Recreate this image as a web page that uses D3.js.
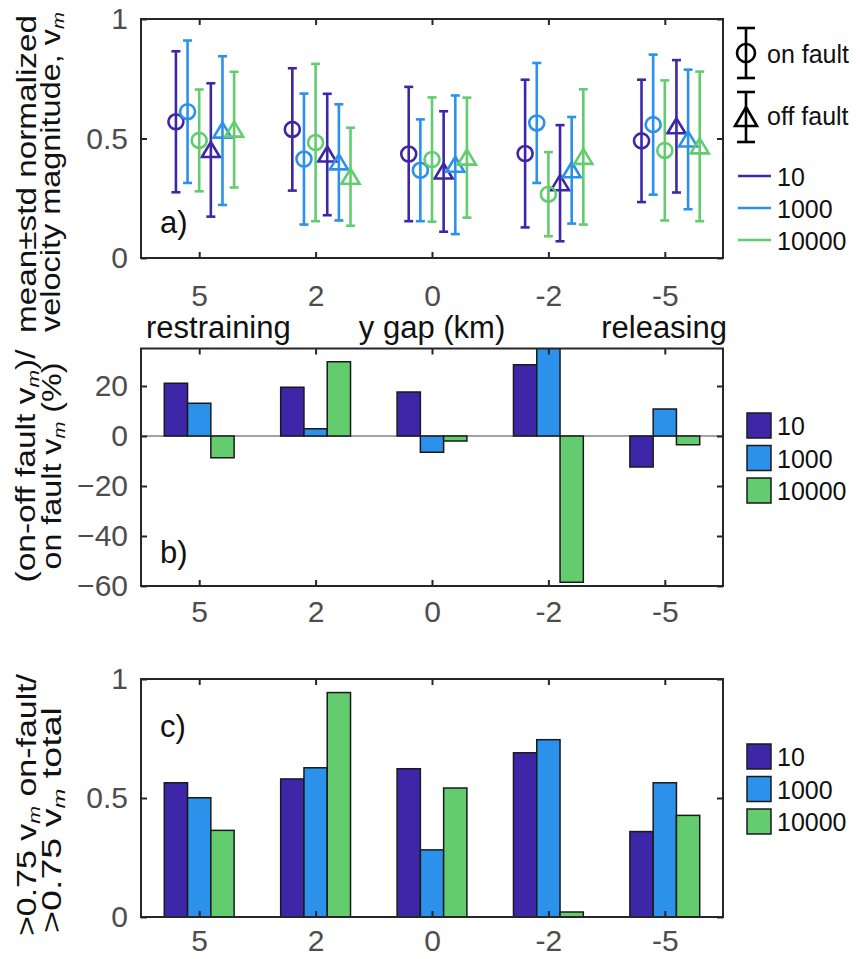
<!DOCTYPE html>
<html>
<head>
<meta charset="utf-8">
<script src="https://cdn.jsdelivr.net/npm/d3@7"></script>
<style>
  body { margin: 0; background: #fff; }
  svg { font-family: "Liberation Sans", Arial, sans-serif; }
</style>
</head>
<body>
<svg id="canvas" width="860" height="959"></svg>
<script>
// y gap categories and model series
let gaps = ['5', '2', '0', '-2', '-5'];
let series = ['10', '1000', '10000'];
let colors = ['#3E26A8', '#2B91EA', '#63CC6E'];

// panel a: mean and std of normalized velocity magnitude (rows = series)
let onMean = [
    [0.570, 0.538, 0.435, 0.437, 0.490],
    [0.612, 0.414, 0.367, 0.565, 0.558],
    [0.492, 0.483, 0.412, 0.267, 0.450]
];
let onStd = [
    [0.295, 0.256, 0.281, 0.309, 0.256],
    [0.298, 0.274, 0.213, 0.251, 0.293],
    [0.213, 0.329, 0.260, 0.176, 0.293]
];
let offMean = [
    [0.452, 0.433, 0.362, 0.313, 0.551],
    [0.533, 0.400, 0.390, 0.367, 0.496],
    [0.537, 0.340, 0.420, 0.423, 0.467]
];
let offStd = [
    [0.279, 0.254, 0.252, 0.243, 0.277],
    [0.311, 0.243, 0.290, 0.223, 0.292],
    [0.242, 0.205, 0.251, 0.283, 0.313]
];

// panel b: (on-off)/on in percent
let diffPct = [
    [21.1, 19.5, 17.6, 28.5, -12.4],
    [13.1, 2.9, -6.5, 35.5, 10.8],
    [-8.7, 29.7, -2.0, -58.5, -3.5]
];

// panel c: fraction of >0.75 vm that is on fault
let fracOn = [
    [0.564, 0.580, 0.623, 0.690, 0.359],
    [0.501, 0.627, 0.282, 0.745, 0.564],
    [0.364, 0.943, 0.542, 0.021, 0.427]
];

let ticksA = [0, 0.5, 1];
let ticksB = [-60, -40, -20, 0, 20];
let ticksC = [0, 0.5, 1];

let canvas = d3.select('#canvas');
let axisColor = '#262626';
let tickColor = '#4d4d4d';
let fs = 30;

let left = 141, right = 723;
let x = d3.scaleLinear().domain([0.5, 5.5]).range([left, right]);

// panel boxes
let panels = {
    a: { top: 19, bottom: 258 },
    b: { top: 348.5, bottom: 586 },
    c: { top: 679, bottom: 917 }
};

let yA = d3.scaleLinear().domain([0, 1]).range([panels.a.bottom, panels.a.top]);
let yB = d3.scaleLinear().domain([-60, 35]).range([panels.b.bottom, panels.b.top]);
let yC = d3.scaleLinear().domain([0, 1]).range([panels.c.bottom, panels.c.top]);

let drawAxes = (p, y, yticks, labelPad) => {
    let g = canvas.append('g');
    let xAx = d3.axisBottom(x).tickValues([1, 2, 3, 4, 5])
        .tickFormat(i => gaps[i - 1]).tickSize(-6).tickPadding(labelPad);
    g.append('g').attr('transform', `translate(0,${p.bottom})`).call(xAx);
    g.append('g').attr('transform', `translate(0,${p.top})`)
        .call(d3.axisTop(x).tickValues([1, 2, 3, 4, 5]).tickFormat('').tickSize(-6));
    g.append('g').attr('transform', `translate(${left},0)`)
        .call(d3.axisLeft(y).tickValues(yticks).tickFormat(d3.format('')).tickSize(-6).tickPadding(13));
    g.append('g').attr('transform', `translate(${right},0)`)
        .call(d3.axisRight(y).tickValues(yticks).tickFormat('').tickSize(-6));
    g.selectAll('.domain').remove();
    g.selectAll('.tick line').attr('stroke', axisColor).attr('stroke-width', 2);
    g.selectAll('.tick text').attr('fill', tickColor).style('font-size', fs + 'px');
    canvas.append('rect')
        .attr('x', left).attr('y', p.top)
        .attr('width', right - left).attr('height', p.bottom - p.top)
        .attr('fill', 'none').attr('stroke', axisColor).attr('stroke-width', 2);
};

// clip bars to their box
let addClip = (id, p) => {
    canvas.append('clipPath').attr('id', id).append('rect')
        .attr('x', left).attr('y', p.top)
        .attr('width', right - left).attr('height', p.bottom - p.top);
};

// rotated y label line; parts with sub=true become the italic subscript m
let yLabel = (xPos, yPos, len, parts) => {
    let t = canvas.append('text')
        .attr('transform', `translate(${xPos},${yPos}) rotate(-90)`)
        .attr('text-anchor', 'middle')
        .attr('fill', '#111')
        .attr('textLength', len)
        .attr('lengthAdjust', 'spacingAndGlyphs')
        .style('font-size', '27px');
    parts.forEach(pt => {
        let s = t.append('tspan').text(pt.t);
        if (pt.sub) {
            s.style('font-size', '17px').style('font-style', 'italic').attr('dy', 4);
        } else if (pt.after) {
            s.attr('dy', -4);
        }
    });
};

let plainText = (xPos, yPos, str, size, anchor) => {
    canvas.append('text').attr('x', xPos).attr('y', yPos)
        .attr('text-anchor', anchor || 'start')
        .style('font-size', size + 'px').attr('fill', '#111').text(str);
};

// ---------- panel a ----------
drawAxes(panels.a, yA, ticksA, 27);

let pointsA = [];
series.forEach((s, si) => {
    gaps.forEach((gp, gi) => {
        pointsA.push({ si, pos: gi + 1 + (si - 2) * 0.1, m: onMean[si][gi], sd: onStd[si][gi], kind: 'on' });
        pointsA.push({ si, pos: gi + 1 + (si + 1) * 0.1, m: offMean[si][gi], sd: offStd[si][gi], kind: 'off' });
    });
});

let gA = canvas.append('g');
let errs = gA.selectAll('g.err').data(pointsA).enter().append('g')
    .attr('stroke', d => colors[d.si]).attr('stroke-width', 2.6).attr('fill', 'none');
errs.append('line')
    .attr('x1', d => x(d.pos)).attr('x2', d => x(d.pos))
    .attr('y1', d => yA(d.m - d.sd)).attr('y2', d => yA(d.m + d.sd));
errs.append('line')
    .attr('x1', d => x(d.pos) - 4.5).attr('x2', d => x(d.pos) + 4.5)
    .attr('y1', d => yA(d.m - d.sd)).attr('y2', d => yA(d.m - d.sd));
errs.append('line')
    .attr('x1', d => x(d.pos) - 4.5).attr('x2', d => x(d.pos) + 4.5)
    .attr('y1', d => yA(d.m + d.sd)).attr('y2', d => yA(d.m + d.sd));
errs.filter(d => d.kind === 'on').append('circle')
    .attr('cx', d => x(d.pos)).attr('cy', d => yA(d.m)).attr('r', 7.5);
errs.filter(d => d.kind === 'off').append('path')
    .attr('d', d => {
        let cx = x(d.pos), cy = yA(d.m);
        return `M${cx},${cy - 8}L${cx + 9},${cy + 7}L${cx - 9},${cy + 7}Z`;
    });

plainText(160, 233, 'a)', 31);

// x label row under panel a
plainText(146, 338, 'restraining', 31);
plainText(x(3), 338, 'y gap (km)', 31, 'middle');
plainText(727, 338, 'releasing', 31, 'end');

yLabel(36, 174, 318, [{ t: 'mean\u00b1std normalized' }]);
yLabel(60, 172, 320, [{ t: 'velocity magnitude, v' }, { t: 'm', sub: true }]);

// legend a
let legA = canvas.append('g').attr('stroke', '#000').attr('stroke-width', 2.6).attr('fill', 'none');
let lx = 746;
[[28, 78], [92, 142]].forEach(([t, b], k) => {
    legA.append('line').attr('x1', lx).attr('x2', lx).attr('y1', t).attr('y2', b);
    legA.append('line').attr('x1', lx - 9).attr('x2', lx + 9).attr('y1', t).attr('y2', t);
    legA.append('line').attr('x1', lx - 9).attr('x2', lx + 9).attr('y1', b).attr('y2', b);
    let cy = (t + b) / 2;
    if (k === 0) {
        legA.append('circle').attr('cx', lx).attr('cy', cy).attr('r', 9);
    } else {
        legA.append('path').attr('d', `M${lx},${cy - 10}L${lx + 11},${cy + 9}L${lx - 11},${cy + 9}Z`);
    }
});
plainText(767, 63, 'on fault', 25);
plainText(767, 125, 'off fault', 25);
series.forEach((s, i) => {
    let ly = 176 + i * 32;
    canvas.append('line').attr('x1', 738).attr('x2', 771).attr('y1', ly).attr('y2', ly)
        .attr('stroke', colors[i]).attr('stroke-width', 2.6);
    plainText(777, ly + 10, s, 25);
});

// ---------- grouped bars (panels b and c) ----------
let drawBars = (vals, y, clipId) => {
    let rows = [];
    vals.forEach((arr, si) => arr.forEach((v, gi) => rows.push({ si, gi, v })));
    canvas.append('g').attr('clip-path', `url(#${clipId})`)
        .selectAll('rect').data(rows).enter().append('rect')
        .attr('x', d => x(d.gi + 1 + (d.si - 1) * 0.2 - 0.1))
        .attr('width', d => x(1.2) - x(1))
        .attr('y', d => y(Math.max(0, d.v)))
        .attr('height', d => Math.abs(y(d.v) - y(0)))
        .attr('fill', d => colors[d.si])
        .attr('stroke', '#1a1a1a').attr('stroke-width', 1.5);
};

let barLegend = (top) => {
    series.forEach((s, i) => {
        let by = top + i * 32.5;
        canvas.append('rect').attr('x', 747).attr('y', by).attr('width', 24).attr('height', 25)
            .attr('fill', colors[i]).attr('stroke', '#1a1a1a').attr('stroke-width', 1.5);
        plainText(777, by + 22, s, 25);
    });
};

// panel b
addClip('clipB', panels.b);
canvas.append('line').attr('x1', left).attr('x2', right).attr('y1', yB(0)).attr('y2', yB(0))
    .attr('stroke', '#444').attr('stroke-width', 1);
drawBars(diffPct, yB, 'clipB');
drawAxes(panels.b, yB, ticksB, 15);
plainText(160, 563, 'b)', 31);
yLabel(35, 466, 233, [{ t: '(on-off fault v' }, { t: 'm', sub: true }, { t: ')/', after: true }]);
yLabel(61, 466, 207, [{ t: 'on fault v' }, { t: 'm', sub: true }, { t: ' (%)', after: true }]);
barLegend(413);

// panel c
addClip('clipC', panels.c);
drawBars(fracOn, yC, 'clipC');
drawAxes(panels.c, yC, ticksC, 13);
plainText(160, 737, 'c)', 31);
yLabel(36, 805, 262, [{ t: '>0.75 v' }, { t: 'm', sub: true }, { t: ' on-fault/', after: true }]);
yLabel(61, 820, 226, [{ t: '>0.75 v' }, { t: 'm', sub: true }, { t: ' total', after: true }]);
barLegend(744);
</script>
</body>
</html>
